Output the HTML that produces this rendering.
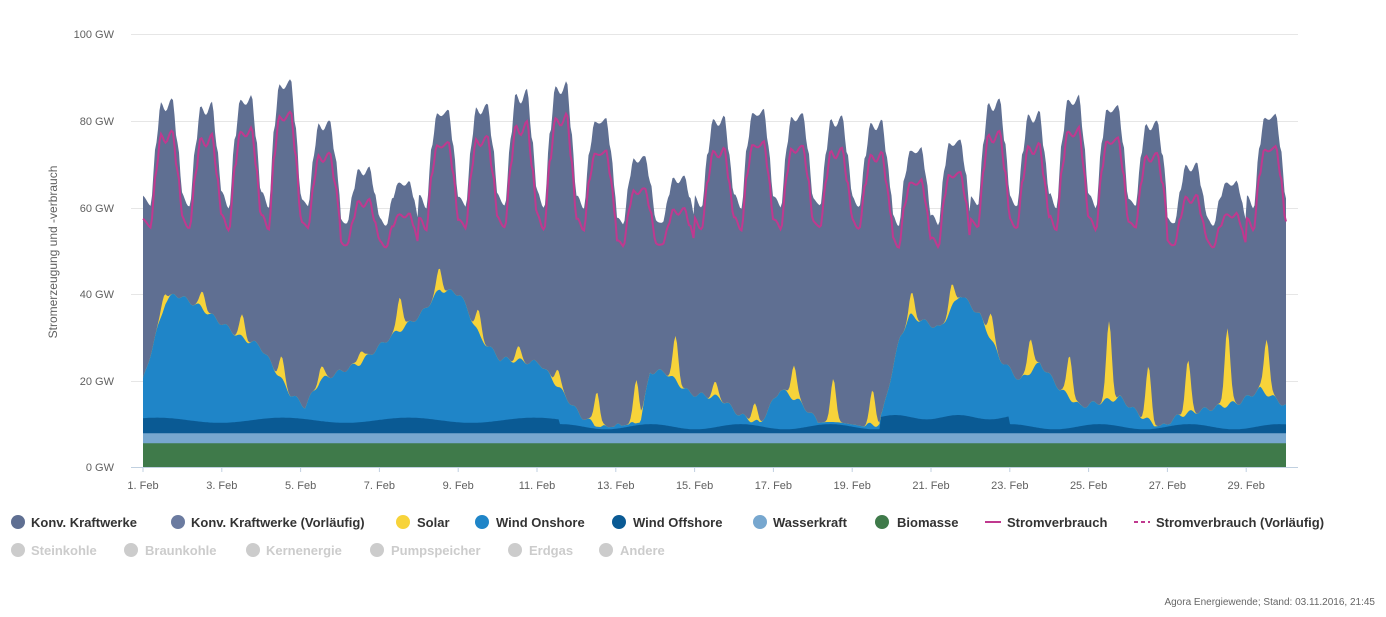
<!DOCTYPE html>
<html><head><meta charset="utf-8"><style>
body{margin:0;background:#fff;font-family:"Liberation Sans",sans-serif}
svg text{font-family:"Liberation Sans",sans-serif}
</style></head><body>
<svg id="s" width="1386" height="612" xmlns="http://www.w3.org/2000/svg">
<g stroke="#e6e6e6" stroke-width="1">
<line x1="131" x2="1298" y1="34.5" y2="34.5"/><line x1="131" x2="1298" y1="121.5" y2="121.5"/>
<line x1="131" x2="1298" y1="208.5" y2="208.5"/><line x1="131" x2="1298" y1="294.5" y2="294.5"/>
<line x1="131" x2="1298" y1="381.5" y2="381.5"/>
</g>
<g font-size="11" fill="#606060" text-anchor="end">
<text x="114" y="38">100 GW</text><text x="114" y="125">80 GW</text><text x="114" y="212">60 GW</text>
<text x="114" y="298">40 GW</text><text x="114" y="385">20 GW</text><text x="114" y="471">0 GW</text>
</g>
<text transform="translate(57,252) rotate(-90)" font-size="12" fill="#606060" text-anchor="middle">Stromerzeugung und -verbrauch</text>
<g id="areas"></g>
<line x1="131" x2="1298" y1="467.5" y2="467.5" stroke="#c0d0e0"/>
<g id="xt" font-size="11" fill="#606060" text-anchor="middle"></g>
<g font-size="13" font-weight="bold" fill="#333">
<circle cx="18" cy="522" r="7" fill="#5f6f92"/><text x="31" y="527">Konv. Kraftwerke</text>
<circle cx="178" cy="522" r="7" fill="#6b7ba0"/><text x="191" y="527">Konv. Kraftwerke (Vorläufig)</text>
<circle cx="403" cy="522" r="7" fill="#f7d33a"/><text x="417" y="527">Solar</text>
<circle cx="482" cy="522" r="7" fill="#1f85c8"/><text x="496" y="527">Wind Onshore</text>
<circle cx="619" cy="522" r="7" fill="#0a5a94"/><text x="633" y="527">Wind Offshore</text>
<circle cx="760" cy="522" r="7" fill="#77a7cf"/><text x="773" y="527">Wasserkraft</text>
<circle cx="882" cy="522" r="7" fill="#3f7a4a"/><text x="897" y="527">Biomasse</text>
<line x1="985" x2="1001" y1="522" y2="522" stroke="#c0398f" stroke-width="2"/><text x="1007" y="527">Stromverbrauch</text>
<line x1="1134" x2="1150" y1="522" y2="522" stroke="#c0398f" stroke-width="2" stroke-dasharray="4,3"/><text x="1156" y="527">Stromverbrauch (Vorläufig)</text>
</g>
<g font-size="13" font-weight="bold" fill="#ccc">
<circle cx="18" cy="550" r="7"/><text x="31" y="555">Steinkohle</text>
<circle cx="131" cy="550" r="7"/><text x="145" y="555">Braunkohle</text>
<circle cx="253" cy="550" r="7"/><text x="266" y="555">Kernenergie</text>
<circle cx="377" cy="550" r="7"/><text x="391" y="555">Pumpspeicher</text>
<circle cx="515" cy="550" r="7"/><text x="529" y="555">Erdgas</text>
<circle cx="606" cy="550" r="7"/><text x="620" y="555">Andere</text>
</g>
<text x="1375" y="605" font-size="10" fill="#666" text-anchor="end">Agora Energiewende; Stand: 03.11.2016, 21:45</text>
</svg>
<script>
var X0=143,D=39.4,Y0=467,K=4.33;
function Y(v){return Y0-v*K;}
var xt=document.getElementById('xt'),h='';
for(var d=1;d<=29;d+=2){var x=X0+(d-1)*D;h+='<text x="'+x+'" y="489">'+d+'. Feb</text><line x1="'+x+'" x2="'+x+'" y1="467" y2="472" stroke="#c0d0e0"/>';}
xt.innerHTML=h;
var peaks=[85,84,86,90,80,69,66,83,84,87,89,81,72,67,81,83,82,81,80,74,76,85,82,86,84,80,70,66,82,80];
var wk=[0,0,0,0,0,1,1,0,0,0,0,0,1,1,0,0,0,0,0,1,1,0,0,0,0,0,1,1,0,0];
var wp=[[143,20],[165,38],[175,40],[200,37],[240,30],[260,28],[290,17],[305,14],[320,20],[360,24],[390,30],[420,35],[440,41],[460,40],[480,30],[500,25],[540,24],[560,18],[580,12],[600,9],[640,10],[650,22],[665,22],[690,17],[720,16],[740,12],[760,10],[780,18],[800,15],[820,10],[850,9],[880,10],[900,30],[910,35],[940,32],[960,40],[980,35],[1000,25],[1020,20],[1040,24],[1060,18],[1080,14],[1100,15],[1120,16],[1140,12],[1160,9],[1180,12],[1200,13],[1220,14],[1240,15],[1260,18],[1287,14]];
var sol=[3,4,5,5,3,3,8,5,5,3,4,8,10,10,3,4,8,10,8,5,5,6,8,10,18,12,12,18,13,8];
var prof=[[0,0.12],[4.5,0],[8,0.6],[11,0.96],[14,0.9],[18,1.0],[21,0.6],[24,0.12]];
function shape(hr){for(var i=0;i<prof.length-1;i++){if(hr<=prof[i+1][0]){var t=(hr-prof[i][0])/(prof[i+1][0]-prof[i][0]);t=(1-Math.cos(Math.PI*t))/2;return prof[i][1]+(prof[i+1][1]-prof[i][1])*t;}}return 0.12;}
function interp(x){for(var i=0;i<wp.length-1;i++){if(x<=wp[i+1][0]){var t=(x-wp[i][0])/(wp[i+1][0]-wp[i][0]);return wp[i][1]+(wp[i+1][1]-wp[i][1])*t;}}return wp[wp.length-1][1];}
var pts=[];
for(var x=X0;x<=1287;x+=1.5){
 var t=(x-X0)/D,d=Math.floor(t),hr=(t-d)*24;d=Math.min(d,29);
 var pk=peaks[d],tr=wk[d]?56:60;
 var sh=shape(hr);
 var tot=tr+(pk-tr)*sh+Math.sin(x*0.6)*0.4;
 var cons=tot-5-2.5*sh;
 var bio=5.5,hyd=7.8,off=(x>880&&x<1010)?11.5+Math.sin(x*.1)*.5:(x<560?10.8+Math.sin(x*.05)*.6:9.3+Math.sin(x*.07)*.6);
 var on=Math.max(off+0.5,interp(x)+Math.sin(x*0.45)*0.6);
 var s=sol[d]*Math.exp(-Math.pow((hr-12.5)/2.3,2));
 pts.push({x:x,tot:Math.max(tot,on+s+5),cons:cons,bio:bio,hyd:hyd,off:off,on:on,sol:on+s});
}
function area(k,col){var p='M'+X0+','+Y0;pts.forEach(function(q){p+='L'+q.x+','+Y(q[k]).toFixed(1)});p+='L'+pts[pts.length-1].x+','+Y0+'Z';return '<path d="'+p+'" fill="'+col+'"/>';}
var a=area('tot','#5f6f92')+area('sol','#f7d33a')+area('on','#1f85c8')+area('off','#0a5a94')+area('hyd','#77a7cf')+area('bio','#3f7a4a');
var l='M';pts.forEach(function(q,i){l+=(i?'L':'')+q.x+','+Y(q.cons).toFixed(1)});
a+='<path d="'+l+'" fill="none" stroke="#c0398f" stroke-width="2"/>';
document.getElementById('areas').innerHTML=a;
</script>
</body></html>
